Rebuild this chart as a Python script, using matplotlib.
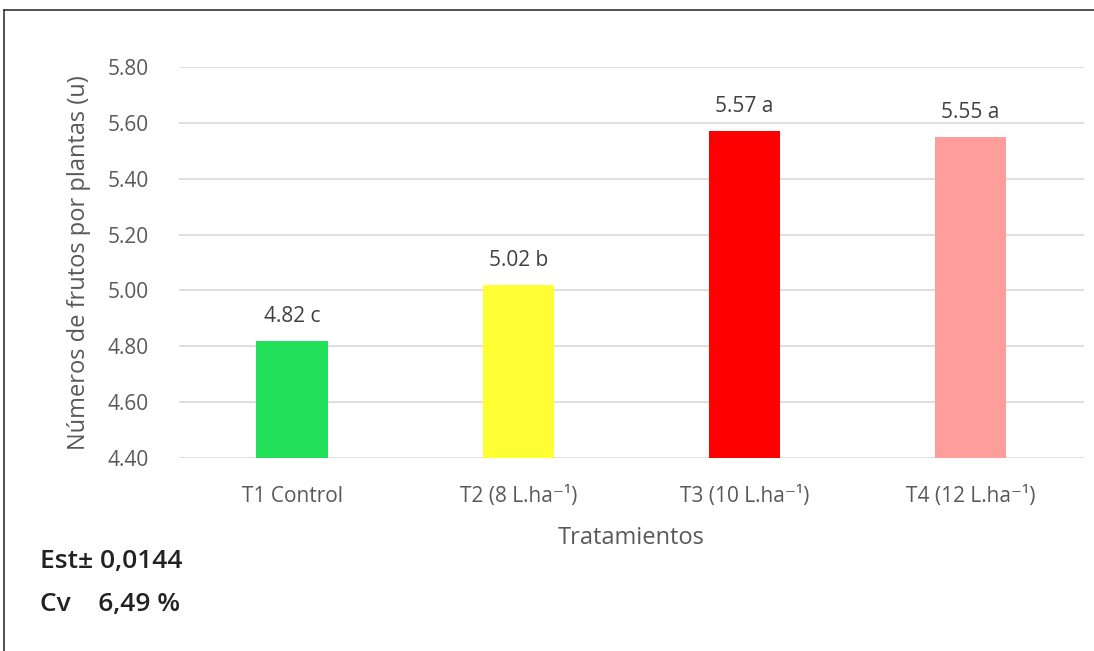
import matplotlib.pyplot as plt
from matplotlib.lines import Line2D

# Treatments and mean fruits per plant
treatments = ['T1 Control', 'T2 (8 L.ha⁻¹)', 'T3 (10 L.ha⁻¹)', 'T4 (12 L.ha⁻¹)']
frutos = [4.82, 5.02, 5.57, 5.55]
letras = ['c', 'b', 'a', 'a']
colores = ['#22E05A', '#FFFF33', '#FF0000', '#FF9D9A']
y_ticks = [4.40, 4.60, 4.80, 5.00, 5.20, 5.40, 5.60, 5.80]

plt.rcParams['font.family'] = ['Open Sans', 'DejaVu Sans']
gris = '#595959'

fig = plt.figure(figsize=(10.94, 6.51), dpi=100)
ax = fig.add_axes([0.1636, 0.2965, 0.827, 0.6005])

x = range(len(treatments))
ax.bar(x, frutos, width=0.315, color=colores, zorder=3)
for i, (v, l) in enumerate(zip(frutos, letras)):
    ax.annotate(f'{v:.2f} {l}', (i, v), xytext=(0, 10), textcoords='offset points',
                ha='center', va='bottom', fontsize=15, color='#404040')

ax.set_ylim(4.40, 5.80)
ax.set_xlim(-0.5, len(treatments) - 0.5)
ax.set_yticks(y_ticks)
ax.set_yticklabels([f'{t:.2f}' for t in y_ticks])
ax.set_xticks(list(x))
ax.set_xticklabels(treatments)
ax.grid(axis='y', color='#D9D9D9', linewidth=1.2, zorder=0)
ax.tick_params(length=0, labelsize=15, labelcolor=gris)
ax.tick_params(axis='y', pad=22)
ax.tick_params(axis='x', pad=20)
for s in ax.spines.values():
    s.set_visible(False)

ax.set_xlabel('Tratamientos', fontsize=17, color=gris, labelpad=14)
ax.set_ylabel('Números de frutos por plantas (u)', fontsize=17, color=gris, labelpad=12)

fig.text(0.037, 0.138, 'Est± 0,0144', fontsize=19, fontweight='semibold',
         color='#222222', va='center')
fig.text(0.037, 0.072, 'Cv    6,49 %', fontsize=19, fontweight='semibold',
         color='#222222', va='center')

# frame lines along top and left edges
fig.add_artist(Line2D([0.004, 1.0], [0.985, 0.985], color='#333333', linewidth=1.2))
fig.add_artist(Line2D([0.004, 0.004], [0.0, 0.985], color='#333333', linewidth=1.2))

fig.savefig('out.png', dpi=100)
